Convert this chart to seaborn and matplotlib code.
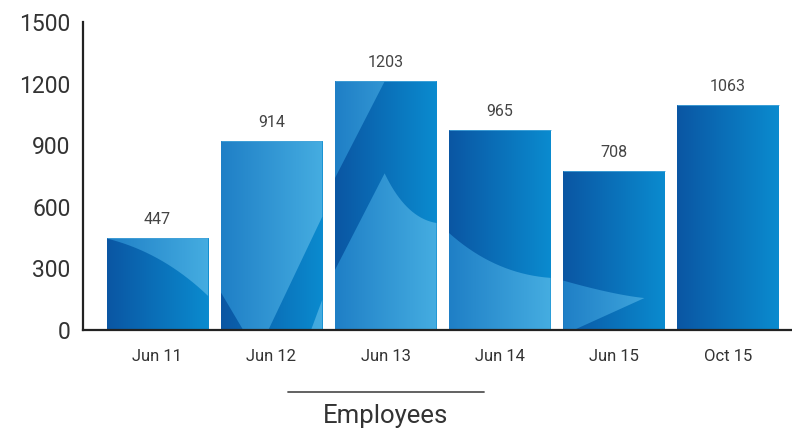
"""Employees per date, bar chart with gradient-filled bars."""
import matplotlib
matplotlib.use("Agg")
import matplotlib.pyplot as plt
import matplotlib.transforms as mtransforms
from matplotlib.colors import LinearSegmentedColormap
from matplotlib.patches import Polygon
import numpy as np
import pandas as pd
import seaborn as sns

sns.set_style("white")
plt.rcParams["font.family"] = ["Roboto", "DejaVu Sans"]

# Data.
dates = ["Jun 11", "Jun 12", "Jun 13", "Jun 14", "Jun 15", "Oct 15"]
bar_heights = [445, 919, 1210, 973, 774, 1094]
value_labels = ["447", "914", "1203", "965", "708", "1063"]
y_ticks = [0, 300, 600, 900, 1200, 1500]

df = pd.DataFrame({"date": dates, "height": bar_heights})


def curve(p0, p1, p2, n=20):
    # quadratic bezier, used for the soft decorative shapes in the bars
    t = np.linspace(0, 1, n)[:, None]
    p0, p1, p2 = map(np.asarray, (p0, p1, p2))
    pts = (1 - t) ** 2 * p0 + 2 * (1 - t) * t * p1 + t ** 2 * p2
    return [tuple(p) for p in pts]


# Decorative lighter regions inside each bar, in bar-local (u, v) units.
overlays = {
    0: [curve((0, 1), (0.55, 0.85), (1, 0.37)) + [(1, 1)]],
    1: [[(0, 1), (1, 1), (1, 0.6), (0.47, 0), (0.22, 0), (0, 0.2)],
        [(1, 0.16), (0.89, 0), (1, 0)]],
    2: [[(0, 1), (0.49, 1), (0, 0.61)],
        [(0, 0), (0, 0.24), (0.49, 0.63)]
        + curve((0.49, 0.63), (0.7, 0.45), (1, 0.43)) + [(1, 0)]],
    3: [[(0, 0)] + curve((0, 0.485), (0.45, 0.28), (1, 0.26)) + [(1, 0)]],
    4: [[(0, 0)] + curve((0, 0.31), (0.5, 0.22), (0.8, 0.2)) + [(0.11, 0)]],
    5: [],
}

base_cmap = LinearSegmentedColormap.from_list("base", ["#0b56a3", "#0a8bcf"])
light_cmap = LinearSegmentedColormap.from_list("light", ["#1f7fc6", "#45ade1"])
grad = np.linspace(0, 1, 256).reshape(1, -1)

fig = plt.figure(figsize=(7.92, 4.30), dpi=100)
ax = fig.add_axes([0.105, 0.233, 0.895, 0.716])

sns.barplot(data=df, x="date", y="height", width=0.89, color="#0a6fbc",
            ax=ax, errorbar=None, saturation=1)

for i, patch in enumerate(ax.patches):
    x0, y0 = patch.get_x(), patch.get_y()
    w, h = patch.get_width(), patch.get_height()
    patch.set_facecolor("none")
    patch.set_edgecolor("none")
    img = ax.imshow(grad, cmap=base_cmap, extent=[x0, x0 + w, y0, y0 + h],
                    aspect="auto", zorder=2, interpolation="bicubic")
    img.set_clip_path(patch)
    for shape in overlays[i]:
        pts = [(x0 + u * w, y0 + v * h) for u, v in shape]
        poly = Polygon(pts, closed=True, facecolor="none", edgecolor="none")
        ax.add_patch(poly)
        over = ax.imshow(grad, cmap=light_cmap,
                         extent=[x0, x0 + w, y0, y0 + h],
                         aspect="auto", zorder=3, interpolation="bicubic")
        over.set_clip_path(poly)
    # thin light rim along the top of each bar
    ax.plot([x0, x0 + w], [y0 + h, y0 + h], color="#4aa8dc", lw=0.7,
            alpha=0.8, zorder=4, solid_capstyle="butt")
    ax.annotate(value_labels[i], (x0 + w / 2, y0 + h), xytext=(0, 8),
                textcoords="offset points", ha="center", va="bottom",
                fontsize=11.5, color="#444444")

ax.set_xlim(-0.65, 5.56)
ax.set_ylim(0, 1500)
ax.set_yticks(y_ticks)
ax.set_yticklabels([str(t) for t in y_ticks])
ax.tick_params(axis="y", length=0, pad=9, labelsize=16.5, labelcolor="#333333")
ax.tick_params(axis="x", length=0, pad=14, labelsize=12, labelcolor="#333333")
ax.set_xlabel("")
ax.set_ylabel("")

for side in ["top", "right"]:
    ax.spines[side].set_visible(False)
for side in ["left", "bottom"]:
    ax.spines[side].set_linewidth(1.6)
    ax.spines[side].set_color("#222222")
    ax.spines[side].set_zorder(5)

# Axis title with a rule above it, centred under the middle bar.
trans = mtransforms.blended_transform_factory(ax.transData, fig.transFigure)
ax.plot([1.145, 2.86], [1 - 392 / 430] * 2, transform=trans, color="#555555",
        lw=1.3, clip_on=False)
ax.text(2.0, 1 - 416 / 430, "Employees", transform=trans, ha="center",
        va="center", fontsize=18.5, color="#333333")

fig.savefig("out.png", dpi=100)
